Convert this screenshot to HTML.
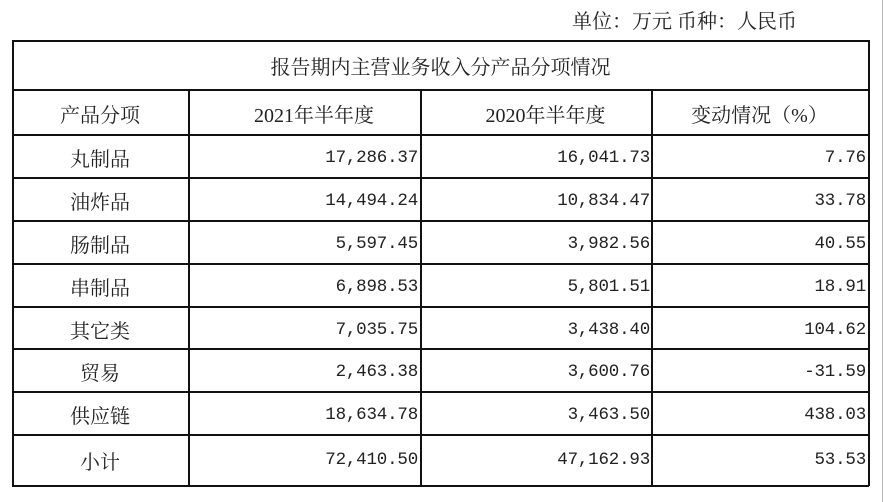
<!DOCTYPE html>
<html><head><meta charset="utf-8"><style>
html,body{margin:0;padding:0;background:#fff;width:884px;height:502px;overflow:hidden;position:relative}
.t{position:absolute;font-family:"Liberation Serif","Noto Serif CJK SC",serif;font-size:20px;color:#222;white-space:nowrap;line-height:1}
.n{font-family:"Liberation Mono","Noto Serif CJK SC",monospace;font-size:17.5px;letter-spacing:-0.2px}
.h{position:absolute;background:#111;height:1.5px}
.v{position:absolute;background:#111;width:1.5px}
</style></head><body>
<div class="t" style="left:572px;top:12px">单位：万元 币种：人民币</div>
<div class="v" style="left:882px;top:0;height:502px;background:#bbb;width:1px"></div>
<div class="h" style="left:12px;top:40px;width:857px"></div>
<div class="h" style="left:12px;top:89px;width:857px"></div>
<div class="h" style="left:12px;top:134px;width:857px"></div>
<div class="h" style="left:12px;top:177px;width:857px"></div>
<div class="h" style="left:12px;top:220px;width:857px"></div>
<div class="h" style="left:12px;top:263px;width:857px"></div>
<div class="h" style="left:12px;top:306px;width:857px"></div>
<div class="h" style="left:12px;top:348px;width:857px"></div>
<div class="h" style="left:12px;top:391px;width:857px"></div>
<div class="h" style="left:12px;top:434px;width:857px"></div>
<div class="h" style="left:12px;top:485px;width:857px"></div>
<div class="v" style="left:12px;top:40px;height:446px"></div>
<div class="v" style="left:868px;top:40px;height:446px"></div>
<div class="v" style="left:188px;top:89px;height:397px"></div>
<div class="v" style="left:420px;top:89px;height:397px"></div>
<div class="v" style="left:651px;top:89px;height:397px"></div>
<div class="t" style="left:12px;width:857px;text-align:center;top:58px">报告期内主营业务收入分产品分项情况</div>
<div class="t" style="left:12px;width:176px;text-align:center;top:106px">产品分项</div>
<div class="t" style="left:198px;width:232px;text-align:center;top:106px">2021年半年度</div>
<div class="t" style="left:430px;width:231px;text-align:center;top:106px">2020年半年度</div>
<div class="t" style="left:651px;width:217px;text-align:center;top:106px">变动情况（%）</div>

<div class="t" style="left:12px;width:176px;text-align:center;top:150px">丸制品</div>
<div class="t n" style="right:466px;top:150px">17,286.37</div>
<div class="t n" style="right:234px;top:150px">16,041.73</div>
<div class="t n" style="right:18px;top:150px">7.76</div>

<div class="t" style="left:12px;width:176px;text-align:center;top:193px">油炸品</div>
<div class="t n" style="right:466px;top:193px">14,494.24</div>
<div class="t n" style="right:234px;top:193px">10,834.47</div>
<div class="t n" style="right:18px;top:193px">33.78</div>

<div class="t" style="left:12px;width:176px;text-align:center;top:236px">肠制品</div>
<div class="t n" style="right:466px;top:236px">5,597.45</div>
<div class="t n" style="right:234px;top:236px">3,982.56</div>
<div class="t n" style="right:18px;top:236px">40.55</div>

<div class="t" style="left:12px;width:176px;text-align:center;top:279px">串制品</div>
<div class="t n" style="right:466px;top:279px">6,898.53</div>
<div class="t n" style="right:234px;top:279px">5,801.51</div>
<div class="t n" style="right:18px;top:279px">18.91</div>

<div class="t" style="left:12px;width:176px;text-align:center;top:322px">其它类</div>
<div class="t n" style="right:466px;top:322px">7,035.75</div>
<div class="t n" style="right:234px;top:322px">3,438.40</div>
<div class="t n" style="right:18px;top:322px">104.62</div>

<div class="t" style="left:12px;width:176px;text-align:center;top:364px">贸易</div>
<div class="t n" style="right:466px;top:364px">2,463.38</div>
<div class="t n" style="right:234px;top:364px">3,600.76</div>
<div class="t n" style="right:18px;top:364px">-31.59</div>

<div class="t" style="left:12px;width:176px;text-align:center;top:407px">供应链</div>
<div class="t n" style="right:466px;top:407px">18,634.78</div>
<div class="t n" style="right:234px;top:407px">3,463.50</div>
<div class="t n" style="right:18px;top:407px">438.03</div>

<div class="t" style="left:12px;width:176px;text-align:center;top:453px">小计</div>
<div class="t n" style="right:466px;top:452px">72,410.50</div>
<div class="t n" style="right:234px;top:452px">47,162.93</div>
<div class="t n" style="right:18px;top:452px">53.53</div>
</body></html>
